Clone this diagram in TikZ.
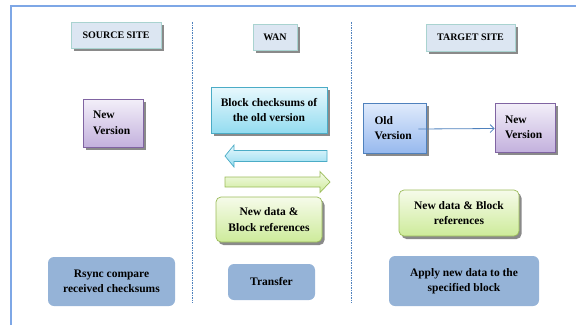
\documentclass[tikz,border=0pt]{standalone}
\usepackage{fontspec}
\setmainfont{Liberation Serif}
\usetikzlibrary{shadows,arrows.meta}
\definecolor{hdrfill}{HTML}{DCE6F2}
\definecolor{hdrline}{HTML}{A9D3D0}
\definecolor{shadowgray}{HTML}{8A8A8A}
\definecolor{purtop}{HTML}{F3EFF9}
\definecolor{purbot}{HTML}{C3B1DD}
\definecolor{purline}{HTML}{8064A2}
\definecolor{cyantop}{HTML}{E8F8FD}
\definecolor{cyanbot}{HTML}{93DCF0}
\definecolor{cyanline}{HTML}{4BACC6}
\definecolor{bluetop}{HTML}{E0EBFC}
\definecolor{bluebot}{HTML}{97B9EE}
\definecolor{blueline}{HTML}{4F81BD}
\definecolor{greentop}{HTML}{F6FBEA}
\definecolor{greenbot}{HTML}{CDEB9A}
\definecolor{greenline}{HTML}{9BBB59}
\definecolor{stepfill}{HTML}{95B3D7}
\definecolor{framecol}{HTML}{7EA7E6}
\definecolor{txt}{HTML}{000000}
\tikzset{
  shadowed/.style={drop shadow={shadow xshift=2.5pt,shadow yshift=-3pt,fill=shadowgray,opacity=1}},
  hdr/.style={draw=hdrline,fill=hdrfill,line width=0.6pt,shadowed,font=\bfseries\fontsize{10}{12}\selectfont,text=txt,inner sep=0pt},
  body/.style={font=\bfseries\fontsize{11.5}{15.5}\selectfont,text=txt,inner sep=0pt},
  purbox/.style={body,draw=purline,line width=0.7pt,top color=purtop,bottom color=purbot,shadowed,align=left,text width=40pt},
  bluebox/.style={body,draw=blueline,line width=0.7pt,top color=bluetop,bottom color=bluebot,shadowed,align=left,text width=40pt},
  cyanbox/.style={body,draw=cyanline,line width=0.7pt,top color=cyantop,bottom color=cyanbot,shadowed,align=center},
  greenbox/.style={body,draw=greenline,line width=0.7pt,top color=greentop,bottom color=greenbot,shadowed,rounded corners=5pt,align=center},
  stepbox/.style={body,fill=stepfill,rounded corners=6pt,align=center},
  divider/.style={draw=blueline,dashed,dash pattern=on 1.5pt off 1pt,line width=0.6pt},
}
\begin{document}
\begin{tikzpicture}[x=1pt,y=-1pt]
\useasboundingbox (0,0) rectangle (576,325);
% frame
\draw[framecol,line width=1.2pt] (11,325) -- (11,6) -- (576,6);
% dividers
\coordinate (d1t) at (192,22); \coordinate (d1b) at (192,303);
\coordinate (d2t) at (351,22); \coordinate (d2b) at (351,303);
\draw[divider] (d1t) -- (d1b);
\draw[divider] (d2t) -- (d2b);
% headers
\node[hdr,minimum width=90pt,minimum height=26pt] (src) at (116,35) {SOURCE SITE};
\node[hdr,minimum width=44pt,minimum height=26pt] (wan) at (275,37) {WAN};
\node[hdr,minimum width=89pt,minimum height=27pt] (tgt) at (470.5,37.5) {TARGET SITE};
% source
\node[purbox,minimum width=60pt,minimum height=48pt] (newS) at (113,123) {New\\Version};
\node[stepbox,minimum width=127pt,minimum height=49pt] (rsync) at (111.5,281.5) {Rsync compare\\received checksums};
% wan
\node[cyanbox,minimum width=116pt,minimum height=46pt] (block) at (269,110) {Block checksums of\\the old version};
\shade[top color=cyantop,bottom color=cyanbot,draw=cyanline,line width=0.7pt]
  (225,156) -- (234,145) -- (234,150.5) -- (327,150.5) -- (327,161.5) -- (234,161.5) -- (234,167) -- cycle;
\shade[top color=greentop,bottom color=greenbot,draw=greenline,line width=0.7pt]
  (330,182) -- (320,171.5) -- (320,177) -- (225,177) -- (225,187) -- (320,187) -- (320,192.5) -- cycle;
\node[greenbox,minimum width=106pt,minimum height=45pt] (dataW) at (269,219.5) {New data \&\\Block references};
\node[stepbox,minimum width=87pt,minimum height=36pt] (transfer) at (271.5,282) {Transfer};
% target
\node[bluebox,minimum width=63pt,minimum height=50pt] (old) at (394.5,128) {Old\\Version};
\node[purbox,minimum width=60pt,minimum height=49pt] (newT) at (525,127.5) {New\\Version};
\draw[blueline,line width=0.8pt,-{Straight Barb[length=4pt,width=8pt]}] ([xshift=-8pt,yshift=-1pt]old.east) -- ([yshift=-1pt]newT.west);
\node[greenbox,minimum width=120pt,minimum height=46pt] (dataT) at (459,213) {New data \& Block\\references};
\node[stepbox,minimum width=150pt,minimum height=50pt] (apply) at (464,281) {Apply new data to the\\specified block};
\end{tikzpicture}
\end{document}
